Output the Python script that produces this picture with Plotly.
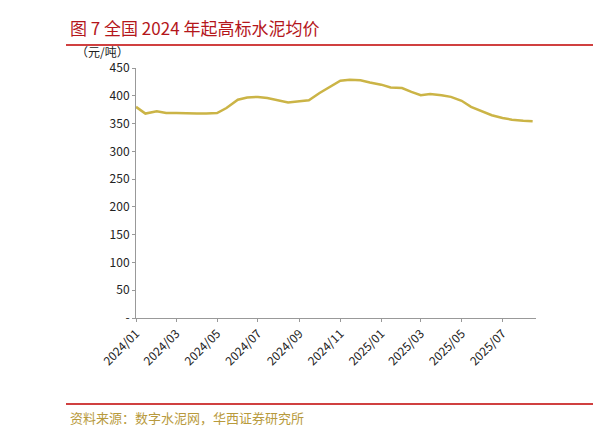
import pandas as pd
import plotly.graph_objects as go

values = [380,368,372,369,369,368,368,368,369,378,393,397,398,396,391,388,390,392,405,415,
          427,429,428,424,420,415,414,407,401,403,401,398,391,380,372,365,360,357,355,354]
dates = pd.date_range("2024-01-01", periods=len(values), freq="SMS")
tick_vals = ["2024-01-01","2024-03-01","2024-05-01","2024-07-01","2024-09-01","2024-11-01",
             "2025-01-01","2025-03-01","2025-05-01","2025-07-01"]
tick_text = ["2024/01","2024/03","2024/05","2024/07","2024/09","2024/11",
             "2025/01","2025/03","2025/05","2025/07"]
y_ticks = [0,50,100,150,200,250,300,350,400,450]
y_text = ["-"] + [str(v) for v in y_ticks[1:]]

fig = go.Figure(go.Scatter(x=dates, y=values, mode="lines",
                           line=dict(color="#CBB446", width=2.5)))
font = "Noto Sans CJK SC"
fig.update_layout(
    width=603, height=428, plot_bgcolor="white", paper_bgcolor="white",
    margin=dict(l=128, r=75, t=60, b=118), showlegend=False,
    font=dict(family=font, size=12, color="#222"),
    xaxis=dict(tickvals=tick_vals, ticktext=tick_text, tickangle=-45,
               range=["2024-01-01", "2025-08-20"], showgrid=False,
               showline=True, linecolor="#999", ticks="outside", ticklen=3, tickcolor="#999"),
    yaxis=dict(tickvals=y_ticks, ticktext=y_text, range=[0, 450], showgrid=False,
               showline=True, linecolor="#999", ticks="outside", ticklen=3, tickcolor="#999"),
    annotations=[
        dict(text="图 7 全国 2024 年起高标水泥均价", x=0, y=1, xref="paper", yref="paper",
             xanchor="left", yanchor="bottom", showarrow=False,
             font=dict(family=font, size=17, color="#B4161B"), xshift=-68, yshift=26),
        dict(text="（元/吨）", x=0, y=1, xref="paper", yref="paper", xanchor="right", yanchor="bottom",
             showarrow=False, font=dict(family=font, size=12), xshift=-5, yshift=6),
        dict(text="资料来源：数字水泥网，华西证券研究所", x=0, y=0, xref="paper", yref="paper",
             xanchor="left", yanchor="top", showarrow=False,
             font=dict(family=font, size=13, color="#B89A3C"), xshift=-68, yshift=-88),
    ],
    shapes=[
        dict(type="line", xref="paper", yref="paper", x0=-0.175, x1=1.1425, y0=1.092, y1=1.092,
             line=dict(color="#C00000", width=1.5)),
        dict(type="line", xref="paper", yref="paper", x0=-0.175, x1=1.1425, y0=-0.344, y1=-0.344,
             line=dict(color="#C00000", width=1.5)),
    ],
)
fig.write_html("out.html")
